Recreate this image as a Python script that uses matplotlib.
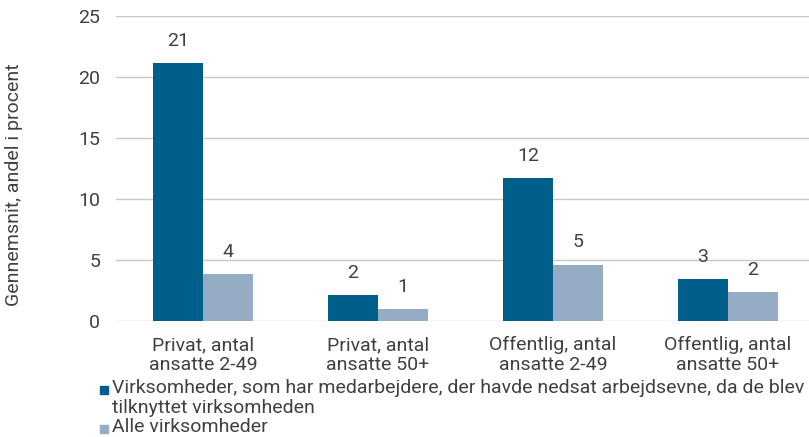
import numpy as np
import matplotlib.pyplot as plt
from matplotlib.patches import Rectangle

plt.rcParams["font.family"] = ["Roboto", "DejaVu Sans"]

# data
categories = ["Privat, antal\nansatte 2-49", "Privat, antal\nansatte 50+",
              "Offentlig, antal\nansatte 2-49", "Offentlig, antal\nansatte 50+"]
nedsat = [21.15, 2.13, 11.72, 3.44]
alle = [3.85, 0.98, 4.6, 2.38]
label_nedsat = ["21", "2", "12", "3"]
label_alle = ["4", "1", "5", "2"]
series_names = ["Virksomheder, som har medarbejdere, der havde nedsat arbejdsevne, da de blev\ntilknyttet virksomheden",
                "Alle virksomheder"]

dark = "#005f8a"
light = "#96acc4"
txt = "#404040"
fs = 14

fig = plt.figure(figsize=(8.09, 4.37), dpi=100)
ax = fig.add_axes([115.5 / 809, 1 - 321 / 437, 700 / 809, 305 / 437])

x = np.arange(len(categories))
w = 0.286
ax.bar(x - w / 2, nedsat, w, color=dark, zorder=3)
ax.bar(x + w / 2, alle, w, color=light, zorder=3)

for i in range(len(categories)):
    ax.text(x[i] - w / 2, nedsat[i] + 1.1, label_nedsat[i], ha="center", va="bottom",
            fontsize=fs, color=txt)
    ax.text(x[i] + w / 2, alle[i] + 1.1, label_alle[i], ha="center", va="bottom",
            fontsize=fs, color=txt)

ax.set_xlim(-0.5, 3.5)
ax.set_ylim(0, 25)
ax.set_yticks([0, 5, 10, 15, 20, 25])
ax.grid(axis="y", color="#c8c8c8", linewidth=1, zorder=0)
for s in ax.spines.values():
    s.set_visible(False)
ax.tick_params(axis="both", length=0, labelsize=fs, labelcolor=txt)
ax.tick_params(axis="y", pad=11)
ax.set_xticks(x)
ax.set_xticklabels(categories, linespacing=1.12)
ax.tick_params(axis="x", pad=11)

fig.text(14 / 809, 1 - 185 / 437, "Gennemsnit, andel i procent", fontsize=fs, color=txt,
         rotation=90, ha="center", va="center")

# legend drawn manually at bottom
sq = 8
for col, name, yc in [(dark, series_names[0], 390), (light, series_names[1], 429)]:
    fig.patches.append(Rectangle((100 / 809, 1 - (yc + 4) / 437), sq / 809, sq / 437,
                                 transform=fig.transFigure, color=col))
    fig.text(112 / 809, 1 - (yc - 11) / 437, name, fontsize=fs, color=txt,
             va="top", ha="left", linespacing=1.12)

plt.savefig("out.png")
